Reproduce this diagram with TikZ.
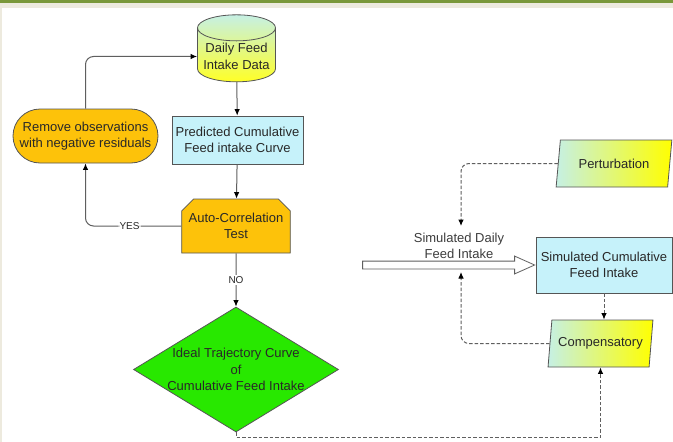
\documentclass[tikz,border=0pt]{standalone}
\usepackage{fontspec}
\setmainfont{Liberation Sans}
\usepackage{xcolor}
\usepackage{tikz}
\usetikzlibrary{positioning,arrows.meta,shapes.geometric,shapes.misc,shapes.arrows}
\definecolor{topgreen}{RGB}{122,152,58}
\definecolor{framebeige}{RGB}{237,234,222}
\definecolor{boxcyan}{RGB}{198,242,250}
\definecolor{ordorange}{RGB}{253,194,10}
\definecolor{brightgreen}{RGB}{40,232,0}
\definecolor{pale}{RGB}{198,240,228}
\definecolor{edge}{RGB}{85,85,85}
\definecolor{linegray}{RGB}{95,95,95}
\definecolor{txt}{RGB}{40,40,40}
\newcommand{\bigtxt}{\fontsize{13}{16.5}\selectfont}

\begin{document}
\begin{tikzpicture}[
  x=1pt, y=-1pt, font=\bigtxt, text=txt,
  base/.style={draw=edge, line width=0.8pt, align=center, inner sep=1pt},
  proc/.style={base, rectangle, fill=boxcyan},
  store/.style={base, cylinder, shape border rotate=90, aspect=0.38,
    top color=pale, bottom color=yellow!85!white, minimum width=78pt, minimum height=67pt},
  io/.style={base, trapezium, trapezium left angle=76, trapezium right angle=104,
    trapezium stretches=true, left color=pale, right color=yellow, minimum height=47pt},
  arr/.style={draw=linegray, line width=1pt, -{Latex[length=6.5pt,width=5.5pt,color=black]}},
  darr/.style={arr, dash pattern=on 3.5pt off 2pt},
  tag/.style={font=\fontsize{10}{12}\selectfont, fill=white, inner sep=1pt}
]
\fill[white] (0,0) rectangle (673,442);
\fill[framebeige] (0,0) rectangle (673,8);
\fill[framebeige] (0,0) rectangle (2,442);
\fill[topgreen] (0,0) rectangle (673,3);
\useasboundingbox (0,0) rectangle (673,442);

\node[store] (data) at (236.5,56.5) {Daily Feed\\Intake Data};
\node[proc, minimum width=131pt, minimum height=48pt] (pred) at (237.5,140)
  {Predicted Cumulative\\Feed intake Curve};
\node[base, chamfered rectangle, chamfered rectangle corners={north west,north east},
  chamfered rectangle xsep=6pt, chamfered rectangle ysep=6pt, fill=ordorange,
  minimum width=100pt, minimum height=54pt] (acorr) at (236,226) {Auto-Correlation\\Test};
\node[base, rounded rectangle, fill=ordorange, minimum width=147pt, minimum height=54pt]
  (remove) at (85.5,136) {Remove observations\\with negative residuals};
\node[base, diamond, aspect=1.64, fill=brightgreen, minimum width=205pt, minimum height=125pt,
  inner xsep=-9pt, inner ysep=0pt] (ideal) at (236,369.5)
  {Ideal Trajectory Curve\\of\\Cumulative Feed Intake};

\node[io, minimum width=116pt] (perturb) at (614,163.5) {Perturbation};
\node[proc, minimum width=136pt, minimum height=56pt] (simcum) at (604,265)
  {Simulated Cumulative\\Feed Intake};
\node[io, minimum width=105pt] (comp) at (600.5,343.5) {Compensatory};
\node[single arrow, draw=linegray, line width=0.8pt, fill=white, inner xsep=0pt,
  inner ysep=3.5pt, single arrow head extend=5pt, single arrow tip angle=48,
  minimum height=172pt, anchor=tip] (feedarrow) at (simcum.west) {};
\node[text=txt!90!white, align=center, inner sep=0pt] (dailylbl) at (459,246)
  {Simulated Daily\\Feed Intake};
\coordinate (mixtop) at (461,226);
\coordinate (mixbot) at (461,272);

\draw[arr] (data) -- (pred);
\draw[arr] (pred) -- (acorr);
\draw[arr] (acorr) -- node[tag]{NO} (ideal);
\draw[arr, rounded corners=8pt] (acorr.west) -| node[tag, pos=0.27]{YES} (remove.south);
\draw[arr, rounded corners=8pt] (remove.north) |- (data.west);
\draw[darr, rounded corners=8pt] (perturb.west) -| (mixtop);
\draw[darr] (simcum.south) -- (simcum.south |- comp.north);
\draw[darr, rounded corners=8pt] (comp.west) -| (mixbot);
\draw[darr] (ideal.south) -- ++(0,5) -| (comp.south);
\end{tikzpicture}
\end{document}
